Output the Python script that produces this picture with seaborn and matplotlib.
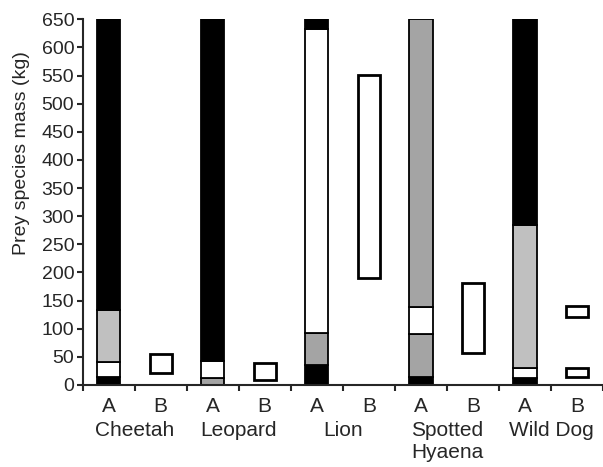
import pandas as pd
import numpy as np
import matplotlib.pyplot as plt
import seaborn as sns

sns.set_style("ticks")
plt.rcParams["font.family"] = ["Liberation Sans", "DejaVu Sans"]

# Datos: especies y categorias
especies = ["Cheetah", "Leopard", "Lion", "Spotted\nHyaena", "Wild Dog"]
grupos = ["A", "B"]
barras = [f"{e}|{g}" for e in especies for g in grupos]

# Segmentos de las barras A (de abajo hacia arriba): limites y colores
limites_A = {
    "Cheetah": [0, 15, 40, 133, 650],
    "Leopard": [0, 13, 42, 650],
    "Lion": [0, 35, 92, 632, 650],
    "Spotted\nHyaena": [0, 15, 90, 138, 650],
    "Wild Dog": [0, 12, 31, 284, 650],
}
colores_A = {
    "Cheetah": ["black", "white", "#c0c0c0", "black"],
    "Leopard": ["#a4a4a4", "white", "black"],
    "Lion": ["black", "#a4a4a4", "white", "black"],
    "Spotted\nHyaena": ["black", "#a4a4a4", "white", "#a4a4a4"],
    "Wild Dog": ["black", "white", "#c0c0c0", "black"],
}

# Rangos de las barras B (min, max)
rangos_B = {
    "Cheetah": [(22, 55)],
    "Leopard": [(9, 39)],
    "Lion": [(190, 551)],
    "Spotted\nHyaena": [(56, 181)],
    "Wild Dog": [(14, 31), (120, 140)],
}

# Tabla de segmentos
filas = []
for e in especies:
    lim = limites_A[e]
    for i, c in enumerate(colores_A[e]):
        filas.append({"barra": f"{e}|A", "lo": lim[i], "hi": lim[i + 1], "color": c, "tipo": "A"})
    for lo, hi in rangos_B[e]:
        filas.append({"barra": f"{e}|B", "lo": lo, "hi": hi, "color": "white", "tipo": "B"})
seg = pd.DataFrame(filas)

fig = plt.figure(figsize=(6.03, 4.67), dpi=100)
ax = fig.add_axes([0.137, 0.1756, 0.863, 0.7831])

for _, s in seg.iterrows():
    ancho = 0.45 if s["tipo"] == "A" else 0.42
    lw = 1.3 if s["tipo"] == "A" else 2.0
    sns.barplot(x=[s["barra"]], y=[s["hi"] - s["lo"]], bottom=s["lo"], order=barras,
                color=s["color"], edgecolor="black", linewidth=lw, width=ancho,
                saturation=1, ax=ax)

ax.set_ylim(0, 650)
ax.set_xlim(-0.5, 9.44)
ax.set_yticks(np.arange(0, 651, 50))
ax.tick_params(axis="y", labelsize=14, length=4, width=1.5, direction="out", pad=2)
ax.set_xticks(range(len(barras)))
ax.set_xticklabels([b.split("|")[1] for b in barras], fontsize=15)
ax.tick_params(axis="x", which="major", length=0, pad=9)
ax.set_xticks(np.arange(-0.5, len(barras), 1), minor=True)
ax.tick_params(axis="x", which="minor", length=4, width=1.5, direction="out")
ax.set_xlabel("")
ax.set_ylabel("Prey species mass (kg)", fontsize=14)
ax.yaxis.set_label_coords(-0.102, 0.635)
sns.despine(ax=ax)
for lado in ["left", "bottom"]:
    ax.spines[lado].set_linewidth(1.5)
    ax.spines[lado].set_clip_on(False)

# Nombres de especies debajo de A/B
for i, e in enumerate(especies):
    ax.text(2 * i + 0.5, -0.098, e, transform=ax.get_xaxis_transform(),
            ha="center", va="top", fontsize=15, linespacing=1.2)

fig.savefig("out.png", dpi=100)
